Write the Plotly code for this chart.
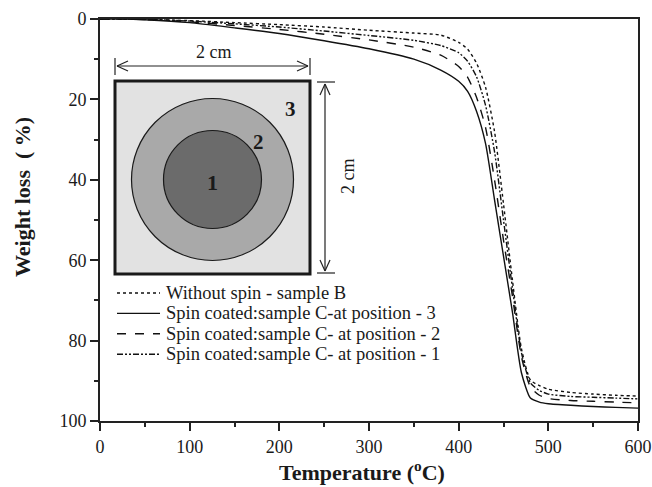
import plotly.graph_objects as go

# ---------------- data ----------------
temperature = [0, 25, 50, 100, 150, 200, 250, 300, 350, 380, 400, 410, 420, 430,
               440, 450, 460, 470, 480, 490, 500, 525, 550, 575, 600]

without_spin_B = [0, 0, 0.1, 0.4, 0.9, 1.4, 2.0, 2.8, 3.5, 4.0, 5.8, 7.5, 11, 17,
                  28, 46, 65, 82, 89.8, 91.2, 92.1, 92.9, 93.3, 93.6, 93.8]
spin_C_pos3 = [0, 0, 0.2, 0.9, 2.2, 3.6, 5.4, 7.4, 10.0, 12.7, 15.5, 18, 23, 31,
               45, 59, 73, 88, 94.3, 95.3, 95.7, 96.1, 96.4, 96.6, 96.8]
spin_C_pos2 = [0, 0, 0.15, 0.7, 1.6, 2.6, 3.8, 5.2, 7.0, 9.0, 11.8, 14.5, 19.5, 27,
               40, 55, 69, 84, 91.5, 93.6, 94.4, 94.9, 95.1, 95.3, 95.5]
spin_C_pos1 = [0, 0, 0.1, 0.5, 1.2, 2.0, 3.0, 4.1, 5.3, 6.6, 8.4, 10.5, 14.4, 21.5,
               33, 50, 67, 83, 90.5, 92.4, 93.3, 93.9, 94.1, 94.3, 94.5]

series_names = ["Without spin - sample B",
                "Spin coated:sample C-at position - 3",
                "Spin coated:sample C- at position - 2",
                "Spin coated:sample C- at position - 1"]
series_values = [without_spin_B, spin_C_pos3, spin_C_pos2, spin_C_pos1]
series_dash = ["dot", "solid", "dash", "6px,2px,2px,2px,2px,2px"]

x_ticks = [0, 100, 200, 300, 400, 500, 600]
y_ticks = [0, 20, 40, 60, 80, 100]

# ---------------- layout geometry (pixels) ----------------
W, H = 652, 487
L, R, T, B = 100, 638, 19, 421   # plot area edges in pixels
FONT = "Liberation Serif, Times New Roman, serif"
INK = "#1a1a1a"


def px(xp):
    return (xp - L) / (R - L)


def py(yp):
    return 1 - (yp - T) / (B - T)


fig = go.Figure()
for name, vals, dash in zip(series_names, series_values, series_dash):
    fig.add_trace(go.Scatter(
        x=temperature, y=vals, mode="lines", name=name,
        line=dict(color="#111111", width=1.4, dash=dash, shape="spline", smoothing=0.6),
    ))

shapes = []


def seg(x0, y0, x1, y1, w=1.2, color="#222222", dash="solid"):
    shapes.append(dict(type="line", xref="paper", yref="paper",
                       x0=px(x0), y0=py(y0), x1=px(x1), y1=py(y1),
                       line=dict(color=color, width=w, dash=dash), layer="above"))


# inset square
shapes.append(dict(type="rect", xref="paper", yref="paper",
                   x0=px(115), x1=px(310), y0=py(274), y1=py(81),
                   fillcolor="#e2e2e2", line=dict(color=INK, width=3), layer="above"))
# rings
cx, cy = 212.5, 179.5
for r, col in [(81, "#a9a9a9"), (49, "#6b6b6b")]:
    shapes.append(dict(type="circle", xref="paper", yref="paper",
                       x0=px(cx - r), x1=px(cx + r), y0=py(cy + r), y1=py(cy - r),
                       fillcolor=col, line=dict(color=INK, width=1.2), layer="above"))

# horizontal dimension arrow
seg(115, 58, 115, 75)
seg(310, 58, 310, 75)
seg(117, 66, 308, 66)
seg(117, 66, 128, 61)
seg(117, 66, 128, 71)
seg(308, 66, 297, 61)
seg(308, 66, 297, 71)

# vertical dimension arrow
seg(317, 82, 335, 82)
seg(317, 273, 335, 273)
seg(325, 84, 325, 271)
seg(325, 84, 320, 95)
seg(325, 84, 330, 95)
seg(325, 271, 320, 260)
seg(325, 271, 330, 260)

annotations = []


def text(x, y, s, size=15, bold=False, angle=0, anchor="center"):
    annotations.append(dict(xref="paper", yref="paper", x=px(x), y=py(y),
                            text=f"<b>{s}</b>" if bold else s, showarrow=False,
                            textangle=angle, xanchor=anchor, yanchor="middle",
                            font=dict(family=FONT, size=size, color=INK)))


text(214, 52, "2 cm", 18)
text(348, 176, "2 cm", 18, angle=-90)
text(212, 182, "1", 22, bold=True)
text(258, 142, "2", 21, bold=True)
text(290, 109, "3", 21, bold=True)

# manual legend (line sample + label)
for i, (name, dash) in enumerate(zip(series_names, series_dash)):
    yy = 293 + 20.4 * i
    seg(117, yy, 160, yy, w=1.4, color="#111111", dash=dash)
    text(164, yy, name, 18.5, anchor="left")

# axis titles
text(362, 471, "Temperature (<sup>o</sup>C)", 22, bold=True)
text(22, 197, "Weight loss  ( %)", 22, bold=True, angle=-90)

axis_common = dict(
    showgrid=False, zeroline=False, showline=True, linecolor="#222222", linewidth=1.8,
    mirror=True, ticks="outside", ticklen=8, tickwidth=1.8, tickcolor="#222222",
    tickfont=dict(family=FONT, size=18, color=INK),
    minor=dict(ticks="outside", ticklen=4, tickwidth=1.5, tickcolor="#222222"),
)

fig.update_layout(
    width=W, height=H,
    margin=dict(l=L, r=W - R, t=T, b=H - B, autoexpand=False),
    paper_bgcolor="white", plot_bgcolor="white",
    xaxis=dict(range=[0, 600], tickvals=x_ticks, ticktext=[str(v) for v in x_ticks],
               **{**axis_common, "minor": dict(axis_common["minor"], dtick=50)}),
    yaxis=dict(range=[100, 0], tickvals=y_ticks, ticktext=[str(v) for v in y_ticks],
               **{**axis_common, "minor": dict(axis_common["minor"], dtick=10)}),
    shapes=shapes,
    annotations=annotations,
    showlegend=False,
)

fig.write_html("out.html", config={"displayModeBar": False},
               post_script="document.body.style.margin='0px';document.body.style.padding='0px';")
